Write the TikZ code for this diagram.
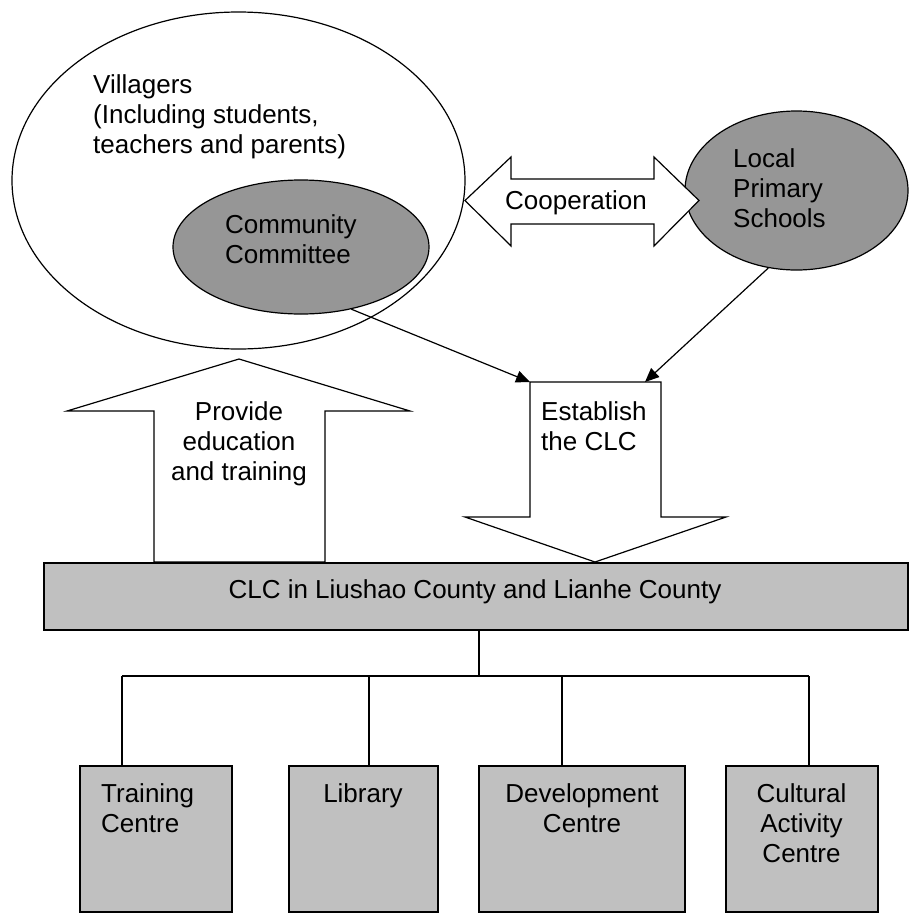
\documentclass[tikz,border=0pt]{standalone}
\usepackage{fontspec}
\setmainfont{Liberation Sans}
\usetikzlibrary{arrows.meta,shapes.geometric}
\definecolor{ovalgrey}{RGB}{150,150,150}
\definecolor{boxgrey}{RGB}{192,192,192}

\begin{document}
\begin{tikzpicture}[x=1pt,y=-1pt,
  txt/.style={inner sep=0pt, font=\fontsize{26}{30}\selectfont},
  oval/.style={ellipse, draw, line width=1.2pt, inner sep=0pt},
  blockarrow/.style={draw, fill=white, line width=1.2pt, line join=miter},
  unitbox/.style={draw, fill=boxgrey, line width=1.4pt, inner sep=0pt},
  link/.style={line width=1.2pt, -{Triangle[length=14pt,width=12pt]}},
  tree/.style={line width=1.2pt}]
\useasboundingbox (0,0) rectangle (909,913);

% villagers, community committee and the schools
\node[oval, fill=white, minimum width=453pt, minimum height=337pt] (vil) at (238.5,180.5) {};
\node[oval, fill=ovalgrey, minimum width=256pt, minimum height=134pt] (cc) at (301,247) {};
\node[oval, fill=ovalgrey, minimum width=223pt, minimum height=159pt] (lps) at (796.5,190.5) {};

\node[txt, anchor=north west, align=left] (viltxt) at (93,74)
  {Villagers\\(Including students,\\teachers and parents)};
\node[txt, anchor=north west, align=left] (cctxt) at (225,214) {Community\\Committee};
\node[txt, anchor=north west, align=left] (lpstxt) at (733,148) {Local\\Primary\\Schools};

% two-headed cooperation arrow
\draw[blockarrow] (465,200.5) -- (511,157) -- (511,179) -- (654,179) -- (654,157)
  -- (699,200.5) -- (654,246) -- (654,224) -- (511,224) -- (511,246) -- cycle;
\node[txt, anchor=north west] (coop) at (505,190) {Cooperation};

% upward arrow: education and training
\draw[blockarrow] (239,359) -- (410,411) -- (325,411) -- (325,562) -- (154,562)
  -- (154,411) -- (67,411) -- cycle;
\node[txt, anchor=north, align=center] (provide) at (239,401) {Provide\\education\\and training};

% downward arrow: establishing the CLC
\draw[blockarrow] (530,382) -- (661,382) -- (661,517) -- (726,517) -- (595,562)
  -- (465,517) -- (530,517) -- cycle;
\coordinate (estNW) at (530,382);
\coordinate (estin) at (645,382);
\node[txt, anchor=north west, align=left] (establish) at (541,401) {Establish\\the CLC};

\draw[link] (cc.-51) -- (estNW);
\draw[link] (lps.250) -- (estin);

% the CLC
\node[unitbox, minimum width=864pt, minimum height=67pt] (clc) at (476,596.5) {};
\node[txt, anchor=north] (clctxt) at (475,579) {CLC in Liushao County and Lianhe County};

% units of the CLC
\node[unitbox, minimum width=152pt, minimum height=146pt] (b1) at (156,839) {};
\node[unitbox, minimum width=149pt, minimum height=146pt] (b2) at (363.5,839) {};
\node[unitbox, minimum width=206pt, minimum height=146pt] (b3) at (582,839) {};
\node[unitbox, minimum width=152pt, minimum height=146pt] (b4) at (802,839) {};

\node[txt, anchor=north west, align=left] (t1) at (101,783) {Training\\Centre};
\node[txt, anchor=north] (t2) at (363,783) {Library};
\node[txt, anchor=north, align=center] (t3) at (582,783) {Development\\Centre};
\node[txt, anchor=north, align=center] (t4) at (801.5,783) {Cultural\\Activity\\Centre};

% organisation tree
\coordinate (hub) at (479,676);
\coordinate (j1) at (122,676);
\coordinate (j2) at (369,676);
\coordinate (j3) at (562,676);
\coordinate (j4) at (809,676);
\draw[tree] (hub |- clc.south) -- (hub);
\draw[tree] (j1) -- (j4);
\draw[tree] (j1) -- (j1 |- b1.north);
\draw[tree] (j2) -- (j2 |- b2.north);
\draw[tree] (j3) -- (j3 |- b3.north);
\draw[tree] (j4) -- (j4 |- b4.north);
\end{tikzpicture}
\end{document}
